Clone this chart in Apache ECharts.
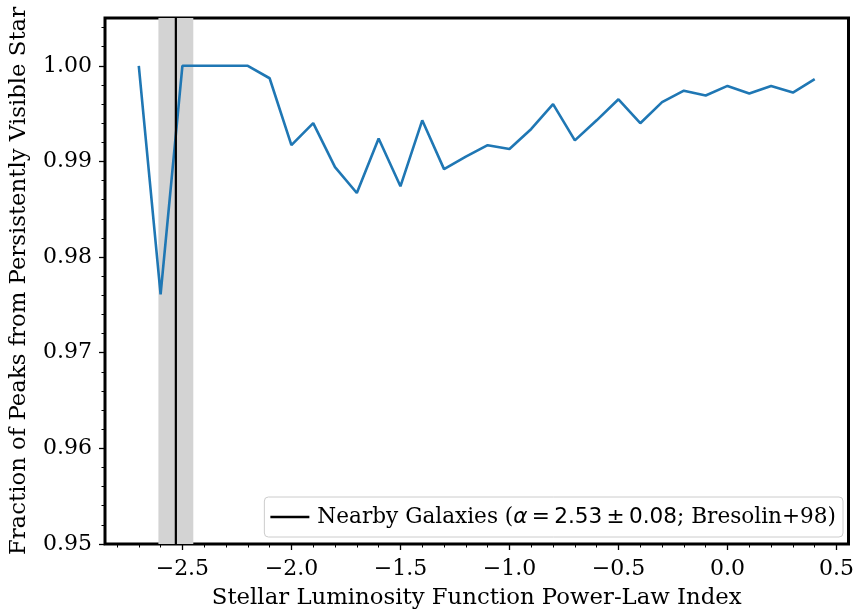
<!DOCTYPE html>
<html>
<head>
<meta charset="utf-8">
<script src="https://cdn.jsdelivr.net/npm/echarts@6/dist/echarts.min.js"></script>
<style>html,body{margin:0;padding:0;background:#fff}#c{width:857px;height:615px}</style>
</head>
<body>
<div id="c"></div>
<script>
// ---- data ----
const alphaIndex = [-2.7,-2.6,-2.5,-2.4,-2.3,-2.2,-2.1,-2.0,-1.9,-1.8,-1.7,-1.6,-1.5,-1.4,-1.3,-1.2,-1.1,-1.0,-0.9,-0.8,-0.7,-0.6,-0.5,-0.4,-0.3,-0.2,-0.1,0.0,0.1,0.2,0.3,0.4];
const fractionPeaks = [1.0000,0.9761,1.0000,1.0000,1.0000,1.0000,0.9987,0.9917,0.9940,0.9894,0.9867,0.9924,0.9874,0.9943,0.9892,0.9905,0.9917,0.9913,0.9934,0.9960,0.9922,0.9943,0.9965,0.9940,0.9962,0.9974,0.9969,0.9979,0.9971,0.9979,0.9972,0.9986];
const nearbyAlpha = -2.53;
const nearbyErr = 0.08;
const xMajorTicks = [-2.5,-2.0,-1.5,-1.0,-0.5,0.0,0.5];
const xMinorTicks = [-2.8,-2.7,-2.6,-2.4,-2.3,-2.2,-2.1,-1.9,-1.8,-1.7,-1.6,-1.4,-1.3,-1.2,-1.1,-0.9,-0.8,-0.7,-0.6,-0.4,-0.3,-0.2,-0.1,0.1,0.2,0.3,0.4,0.5];
const yMajorTicks = [0.95,0.96,0.97,0.98,0.99,1.00];
const yMinorTicks = [0.952,0.954,0.956,0.958,0.962,0.964,0.966,0.968,0.972,0.974,0.976,0.978,0.982,0.984,0.986,0.988,0.992,0.994,0.996,0.998,1.002,1.004];
const xRange = [-2.855, 0.555];
const yRange = [0.95, 1.005];

const serif = 'DejaVu Serif';
const chart = echarts.init(document.getElementById('c'), null, {renderer:'canvas'});
const lineData = alphaIndex.map((x,i)=>[x, fractionPeaks[i]]);
const fmtX = v => { const s = Math.abs(v).toFixed(1); return (v < -1e-9 ? '\u2212' : '') + s; };

const xBase = {type:'value', min:xRange[0], max:xRange[1], gridIndex:0, position:'bottom',
  axisLine:{show:false, onZero:false}, splitLine:{show:false}};
const yBase = {type:'value', min:yRange[0], max:yRange[1], gridIndex:0, position:'left',
  axisLine:{show:false, onZero:false}, splitLine:{show:false}};

chart.setOption({
  animation:false,
  backgroundColor:'#fff',
  grid:{left:105, right:7, top:18, bottom:68, show:true, borderColor:'#000', borderWidth:3, backgroundColor:'transparent'},
  xAxis:[
    Object.assign({}, xBase, {
      name:'Stellar Luminosity Function Power-Law Index', nameLocation:'middle', nameGap:43,
      nameTextStyle:{fontFamily:serif, fontSize:22.8, color:'#000'},
      axisTick:{show:true, length:6, inside:false, customValues:xMajorTicks, lineStyle:{color:'#000', width:1.3}},
      axisLabel:{show:true, customValues:xMajorTicks, formatter:fmtX, margin:14, fontFamily:serif, fontSize:22, color:'#000'}
    }),
    Object.assign({}, xBase, {
      axisTick:{show:true, length:3.5, customValues:xMinorTicks, lineStyle:{color:'#000', width:1}},
      axisLabel:{show:false}
    })
  ],
  yAxis:[
    Object.assign({}, yBase, {
      name:'Fraction of Peaks from Persistently Visible Star', nameLocation:'middle', nameGap:74,
      nameTextStyle:{fontFamily:serif, fontSize:22.8, color:'#000'},
      axisTick:{show:true, length:6, customValues:yMajorTicks, lineStyle:{color:'#000', width:1.3}},
      axisLabel:{show:true, customValues:yMajorTicks, formatter:v=>v.toFixed(2), margin:13, fontFamily:serif, fontSize:22, color:'#000'}
    }),
    Object.assign({}, yBase, {
      axisTick:{show:true, length:3.5, customValues:yMinorTicks, lineStyle:{color:'#000', width:1}},
      axisLabel:{show:false}
    })
  ],
  legend:{
    show:true, right:14, bottom:78, orient:'horizontal',
    data:[{name:'nearby', icon:'rect'}],
    itemWidth:39, itemHeight:2.4, itemGap:10,
    backgroundColor:'#fff', borderColor:'#cccccc', borderWidth:1, borderRadius:4,
    padding:[9,7,9,6],
    formatter:()=>'{s|Nearby Galaxies (}{a|\u03b1}{m|\u2009=\u20092.53\u2009\u00b1\u20090.08}{s|; Bresolin+98)}',
    textStyle:{padding:[0,0,0,3], rich:{
      s:{fontFamily:serif, fontSize:21.6, color:'#000'},
      a:{fontFamily:'DejaVu Sans', fontStyle:'italic', fontSize:21.6, color:'#000'},
      m:{fontFamily:'DejaVu Sans', fontSize:21.6, color:'#000'}
    }}
  },
  series:[
    {type:'line', name:'band', xAxisIndex:0, yAxisIndex:0, data:[], silent:true,
     markArea:{silent:true, itemStyle:{color:'#d3d3d3', opacity:1},
       data:[[{xAxis:nearbyAlpha-nearbyErr},{xAxis:nearbyAlpha+nearbyErr}]]}, z:1},
    {type:'line', name:'fraction', xAxisIndex:0, yAxisIndex:0, data:lineData, showSymbol:false, symbol:'none',
     lineStyle:{color:'#1f77b4', width:2.6}, itemStyle:{color:'#1f77b4'}, z:3},
    {type:'line', name:'nearby', xAxisIndex:0, yAxisIndex:0, data:[[nearbyAlpha, yRange[0]],[nearbyAlpha, yRange[1]]],
     showSymbol:false, symbol:'none', lineStyle:{color:'#000', width:2.2}, itemStyle:{color:'#000'}, z:4}
  ]
});
</script>
</body>
</html>
